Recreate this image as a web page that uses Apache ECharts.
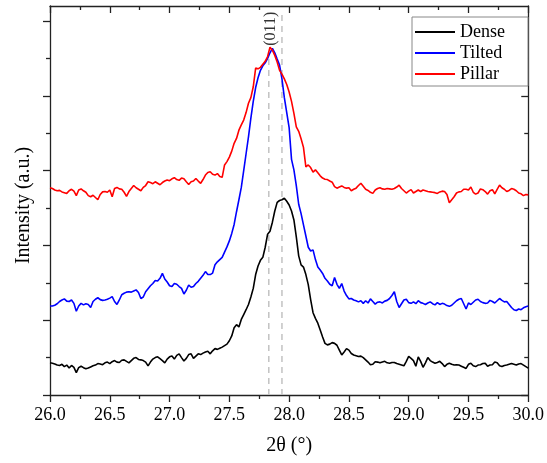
<!DOCTYPE html>
<html><head><meta charset="utf-8">
<script src="https://cdn.jsdelivr.net/npm/echarts@6/dist/echarts.min.js"></script>
<style>html,body{margin:0;padding:0;background:#fff}#c{width:547px;height:463px}</style>
</head><body><div id="c"></div>
<script>
const twoTheta = [
26.00,26.02,26.04,26.06,26.08,26.10,26.12,26.14,26.16,26.18,
26.20,26.22,26.24,26.26,26.28,26.30,26.32,26.34,26.36,26.38,
26.40,26.42,26.44,26.46,26.48,26.50,26.52,26.54,26.56,26.58,
26.60,26.62,26.64,26.66,26.68,26.70,26.72,26.74,26.76,26.78,
26.80,26.82,26.84,26.86,26.88,26.90,26.92,26.94,26.96,26.98,
27.00,27.02,27.04,27.06,27.08,27.10,27.12,27.14,27.16,27.18,
27.20,27.22,27.24,27.26,27.28,27.30,27.32,27.34,27.36,27.38,
27.40,27.42,27.44,27.46,27.48,27.50,27.52,27.54,27.56,27.58,
27.60,27.62,27.64,27.66,27.68,27.70,27.72,27.74,27.76,27.78,
27.80,27.82,27.84,27.86,27.88,27.90,27.92,27.94,27.96,27.98,
28.00,28.02,28.04,28.06,28.08,28.10,28.12,28.14,28.16,28.18,
28.20,28.22,28.24,28.26,28.28,28.30,28.32,28.34,28.36,28.38,
28.40,28.42,28.44,28.46,28.48,28.50,28.52,28.54,28.56,28.58,
28.60,28.62,28.64,28.66,28.68,28.70,28.72,28.74,28.76,28.78,
28.80,28.82,28.84,28.86,28.88,28.90,28.92,28.94,28.96,28.98,
29.00,29.02,29.04,29.06,29.08,29.10,29.12,29.14,29.16,29.18,
29.20,29.22,29.24,29.26,29.28,29.30,29.32,29.34,29.36,29.38,
29.40,29.42,29.44,29.46,29.48,29.50,29.52,29.54,29.56,29.58,
29.60,29.62,29.64,29.66,29.68,29.70,29.72,29.74,29.76,29.78,
29.80,29.82,29.84,29.86,29.88,29.90,29.92,29.94,29.96,29.98,
30.00];

const dense = [
0.86,0.85,0.83,0.80,0.79,0.82,0.76,0.80,0.72,0.79,
0.74,0.60,0.73,0.77,0.73,0.70,0.72,0.75,0.78,0.80,
0.84,0.83,0.81,0.86,0.88,0.84,0.89,0.92,0.88,0.87,
0.93,0.94,0.90,0.86,0.92,0.98,1.00,0.95,0.94,0.92,
0.88,0.78,0.88,0.96,1.00,1.02,0.97,0.92,0.86,0.96,
1.02,1.04,0.96,1.06,1.10,1.00,0.91,0.98,1.08,1.10,
0.98,1.04,1.10,1.08,1.12,1.15,1.17,1.10,1.18,1.24,
1.22,1.25,1.28,1.32,1.36,1.45,1.58,1.80,1.88,1.82,
2.02,2.15,2.28,2.42,2.62,2.85,3.22,3.45,3.60,3.68,
3.95,4.30,4.38,4.62,4.92,5.15,5.20,5.22,5.26,5.18,
5.08,4.92,4.68,4.23,3.72,3.48,3.42,3.22,2.95,2.55,
2.20,2.05,1.92,1.74,1.55,1.38,1.34,1.36,1.40,1.38,
1.33,1.20,1.07,1.15,1.24,1.20,1.11,1.07,1.05,1.03,
1.04,1.00,0.94,0.88,0.81,0.82,0.89,0.88,0.86,0.88,
0.90,0.86,0.85,0.87,0.87,0.84,0.82,0.80,0.78,0.90,
1.03,0.98,0.92,0.77,1.02,0.90,0.74,0.86,1.00,0.92,
0.88,0.85,0.87,0.90,0.84,0.76,0.82,0.85,0.82,0.80,
0.81,0.80,0.77,0.74,0.71,0.82,0.85,0.78,0.76,0.80,
0.81,0.84,0.85,0.77,0.80,0.81,0.88,0.86,0.78,0.76,
0.79,0.80,0.82,0.84,0.82,0.80,0.83,0.84,0.80,0.76,
0.72];

const tilted = [
2.38,2.38,2.40,2.44,2.50,2.54,2.57,2.51,2.50,2.54,
2.45,2.24,2.38,2.45,2.41,2.44,2.42,2.34,2.50,2.56,
2.60,2.55,2.53,2.54,2.56,2.59,2.63,2.50,2.42,2.54,
2.68,2.72,2.75,2.76,2.75,2.78,2.81,2.74,2.58,2.62,
2.76,2.84,2.92,2.98,3.06,3.05,3.12,3.25,3.10,3.02,
2.92,2.90,2.98,2.96,2.90,2.85,2.70,2.80,2.94,2.88,
2.90,2.98,3.04,3.12,3.20,3.30,3.22,3.22,3.26,3.48,
3.56,3.62,3.68,3.82,3.96,4.12,4.32,4.56,4.90,5.22,
5.55,6.00,6.45,6.90,7.40,7.85,8.22,8.48,8.68,8.80,
8.88,9.00,9.15,9.27,9.15,8.98,8.82,8.45,7.95,7.55,
7.15,6.30,6.02,5.60,5.10,4.85,4.55,4.25,3.95,3.85,
3.88,3.62,3.42,3.34,3.25,3.12,3.05,2.96,2.92,3.14,
2.96,2.85,2.98,2.78,2.66,2.57,2.58,2.54,2.52,2.49,
2.52,2.45,2.52,2.46,2.57,2.50,2.43,2.48,2.49,2.46,
2.51,2.53,2.58,2.66,2.76,2.50,2.34,2.44,2.54,2.56,
2.47,2.45,2.49,2.44,2.52,2.47,2.45,2.42,2.46,2.49,
2.44,2.41,2.47,2.42,2.45,2.43,2.39,2.37,2.40,2.46,
2.52,2.56,2.58,2.44,2.30,2.46,2.42,2.48,2.54,2.56,
2.50,2.47,2.45,2.46,2.53,2.50,2.46,2.52,2.58,2.53,
2.49,2.50,2.42,2.34,2.28,2.26,2.30,2.28,2.33,2.36,
2.38];

const pillar = [
5.54,5.52,5.48,5.46,5.47,5.43,5.41,5.39,5.46,5.50,
5.45,5.33,5.48,5.51,5.46,5.42,5.33,5.30,5.34,5.28,
5.22,5.36,5.43,5.44,5.42,5.48,5.30,5.52,5.55,5.51,
5.50,5.42,5.31,5.44,5.52,5.60,5.54,5.50,5.46,5.55,
5.60,5.70,5.68,5.65,5.70,5.66,5.62,5.68,5.72,5.75,
5.73,5.78,5.81,5.76,5.74,5.80,5.78,5.70,5.63,5.70,
5.72,5.79,5.72,5.66,5.76,5.88,5.95,5.97,5.90,5.88,
5.92,5.84,5.82,6.15,6.24,6.36,6.52,6.73,6.86,7.08,
7.22,7.35,7.55,7.80,7.95,8.24,8.74,8.72,8.76,8.84,
8.92,9.05,9.30,9.22,9.08,8.90,8.68,8.58,8.45,8.30,
8.10,7.85,7.53,7.17,7.05,6.85,6.62,6.10,6.15,6.08,
5.96,6.02,5.94,5.86,5.80,5.77,5.76,5.72,5.69,5.57,
5.53,5.56,5.59,5.55,5.53,5.54,5.46,5.50,5.53,5.60,
5.66,5.58,5.50,5.47,5.42,5.39,5.48,5.52,5.54,5.51,
5.50,5.52,5.51,5.50,5.52,5.56,5.61,5.52,5.46,5.40,
5.45,5.49,5.40,5.44,5.48,5.44,5.48,5.46,5.44,5.43,
5.42,5.41,5.39,5.43,5.45,5.44,5.36,5.14,5.22,5.30,
5.40,5.43,5.44,5.50,5.50,5.48,5.56,5.42,5.37,5.40,
5.51,5.49,5.44,5.37,5.46,5.49,5.38,5.50,5.61,5.54,
5.50,5.44,5.47,5.52,5.50,5.46,5.40,5.38,5.33,5.36,
5.35];

const seriesNames = ['Dense', 'Tilted', 'Pillar'];
const seriesColors = ['#000000', '#0000ff', '#ff0000'];
const refLinePos = [27.83, 27.94];
const refLineTop = [9.17, 10.29];
const peakLabelText = '(011)';
const peakLabelPos = [27.845, 9.79];
const xMin = 26, xMax = 30, xStep = 0.5;
const yMin = 0, yMax = 10.4;
const yMajor = [0, 2, 4, 6, 8, 10];
const yMinor = [1, 3, 5, 7, 9];
const xTitle = '2θ (°)';
const yTitle = 'Intensity (a.u.)';

const FONT = "'Liberation Serif', 'DejaVu Serif', serif";
const AX = { color: '#222', width: 1.3 };

function zip(xs, ys) { return xs.map((x, i) => [x, ys[i]]); }
const allSeries = [dense, tilted, pillar];

const chart = echarts.init(document.getElementById('c'), null, { renderer: 'canvas' });

const xBase = {
  type: 'value', min: xMin, max: xMax, interval: xStep,
  splitLine: { show: false }, minorSplitLine: { show: false },
  axisLine: { show: true, lineStyle: AX, onZero: false }
};
const yBase = {
  type: 'value', min: yMin, max: yMax,
  splitLine: { show: false }, axisLabel: { show: false },
  axisLine: { show: false, onZero: false }
};

const option = {
  animation: false,
  backgroundColor: '#fff',
  grid: { left: 50, right: 16, top: 6, bottom: 68, containLabel: false },
  xAxis: [
    Object.assign({}, xBase, {
      position: 'bottom',
      axisTick: { show: true, inside: false, length: 7, lineStyle: AX },
      minorTick: { show: true, splitNumber: 2, length: 4, lineStyle: AX },
      axisLabel: { show: true, formatter: v => v.toFixed(1), fontFamily: FONT, fontSize: 18, color: '#000', margin: 11 },
      name: xTitle, nameLocation: 'middle', nameGap: 41,
      nameTextStyle: { fontFamily: FONT, fontSize: 20, color: '#000' }
    }),
    Object.assign({}, xBase, {
      position: 'top',
      axisTick: { show: true, inside: true, length: 7, lineStyle: AX },
      minorTick: { show: true, splitNumber: 2, length: 4, lineStyle: AX },
      axisLabel: { show: false }
    })
  ],
  yAxis: [
    Object.assign({}, yBase, {
      position: 'left',
      axisLine: { show: true, lineStyle: AX, onZero: false },
      axisTick: { show: true, inside: false, length: 7, lineStyle: AX, customValues: yMajor },
      name: yTitle, nameLocation: 'middle', nameGap: 16, nameRotate: 90,
      nameTextStyle: { fontFamily: FONT, fontSize: 20, color: '#000', padding: [0, 10, 0, 0] }
    }),
    Object.assign({}, yBase, {
      position: 'left',
      axisTick: { show: true, inside: false, length: 4, lineStyle: AX, customValues: yMinor }
    }),
    Object.assign({}, yBase, {
      position: 'right',
      axisLine: { show: true, lineStyle: AX, onZero: false },
      axisTick: { show: true, inside: true, length: 7, lineStyle: AX, customValues: yMajor }
    }),
    Object.assign({}, yBase, {
      position: 'right',
      axisTick: { show: true, inside: true, length: 4, lineStyle: AX, customValues: yMinor }
    })
  ],
  legend: {
    data: seriesNames, orient: 'vertical', left: 412, top: 17,
    itemWidth: 40, itemHeight: 14, itemGap: 3,
    padding: [6, 23, 3, 2],
    borderColor: '#888', borderWidth: 1, backgroundColor: '#fff',
    itemStyle: { opacity: 0 },
    textStyle: { fontFamily: FONT, fontSize: 18, color: '#000' }
  },
  series: []
};

refLinePos.forEach((x, i) => {
  option.series.push({
    type: 'line', name: 'ref' + i, xAxisIndex: 0, yAxisIndex: 0,
    data: [[x, yMin], [x, refLineTop[i]]], symbol: 'none', silent: true, z: 1,
    lineStyle: { color: '#c2c2c2', width: 1.5, type: [6, 5] }
  });
});

allSeries.forEach((ys, i) => {
  option.series.push({
    type: 'line', name: seriesNames[i], xAxisIndex: 0, yAxisIndex: 0,
    data: zip(twoTheta, ys), symbol: 'none', showSymbol: false, z: 2 + i,
    color: seriesColors[i],
    lineStyle: { color: seriesColors[i], width: 1.6 }
  });
});

option.series.push({
  type: 'scatter', name: 'label', xAxisIndex: 0, yAxisIndex: 0, silent: true, z: 10,
  data: [peakLabelPos], symbolSize: 1, itemStyle: { color: 'rgba(0,0,0,0)' },
  label: { show: true, position: 'inside', formatter: peakLabelText, rotate: 90,
    fontFamily: FONT, fontSize: 16, color: '#000' }
});

chart.setOption(option);
</script>
</body></html>
